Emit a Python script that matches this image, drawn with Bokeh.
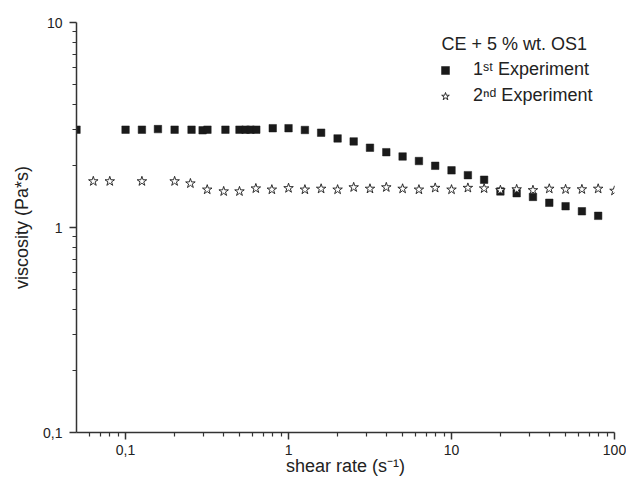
from bokeh.plotting import figure
from bokeh.models import Range1d, CustomJSTickFormatter, Legend, LegendItem, FixedTicker, Label
from bokeh.embed import file_html
from bokeh.resources import INLINE

# 1st experiment (filled squares)
x1 = [0.05, 0.1, 0.126, 0.158, 0.2, 0.254, 0.297, 0.318, 0.41, 0.5, 0.545, 0.584, 0.634, 0.8, 1.0, 1.26,
      1.585, 2.0, 2.51, 3.16, 3.98, 5.01, 6.31, 7.94, 10.0, 12.6, 15.85, 19.95, 25.1, 31.6, 39.8, 50.1, 63.1, 79.4]
y1 = [3.0, 3.0, 3.0, 3.02, 3.0, 3.0, 2.98, 3.0, 3.0, 3.0, 3.0, 3.0, 3.0, 3.05, 3.05, 2.99,
      2.9, 2.72, 2.63, 2.45, 2.33, 2.22, 2.11, 2.0, 1.90, 1.80, 1.71, 1.50, 1.47, 1.41, 1.32, 1.27, 1.20, 1.14]

# 2nd experiment (open stars)
x2 = [0.0634, 0.080, 0.126, 0.2, 0.25, 0.317, 0.40, 0.50, 0.63, 0.79, 1.0, 1.26, 1.585, 2.0, 2.51, 3.16,
      3.98, 5.01, 6.31, 7.94, 10.0, 12.6, 15.85, 19.95, 25.1, 31.6, 39.8, 50.1, 63.1, 79.4, 100.0]
y2 = [1.68, 1.68, 1.68, 1.68, 1.64, 1.53, 1.50, 1.50, 1.55, 1.53, 1.555, 1.53, 1.545, 1.53, 1.57, 1.545,
      1.57, 1.545, 1.53, 1.56, 1.53, 1.56, 1.55, 1.52, 1.535, 1.52, 1.545, 1.535, 1.535, 1.545, 1.51]

x_major = [0.1, 1, 10, 100]
x_minor = [0.06, 0.07, 0.08, 0.09, 0.2, 0.3, 0.4, 0.5, 0.6, 0.7, 0.8, 0.9,
           2, 3, 4, 5, 6, 7, 8, 9, 20, 30, 40, 50, 60, 70, 80, 90]
y_major = [0.1, 1, 10]
y_minor = [0.2, 0.3, 0.4, 0.5, 0.6, 0.7, 0.8, 0.9, 2, 3, 4, 5, 6, 7, 8, 9]

legend_title = "CE + 5 % wt. OS1"
label1 = "1ˢᵗ Experiment"
label2 = "2ⁿᵈ Experiment"
x_label = "shear rate (s⁻¹)"
y_label = "viscosity (Pa*s)"

FONT = "Liberation Sans"
TXT = "#222222"
BIG = "18px"

p = figure(width=626, height=478, x_axis_type="log", y_axis_type="log",
           x_range=Range1d(0.05, 100), y_range=Range1d(0.1, 10),
           output_backend="svg", toolbar_location=None,
           min_border_left=76, min_border_right=12, min_border_top=22, min_border_bottom=46)
p.outline_line_color = None
p.grid.visible = False
p.background_fill_color = "white"
p.border_fill_color = "white"

r1 = p.scatter(x1, y1, marker="square", size=7.5, fill_color="#1a1a1a", line_color="#1a1a1a", line_width=0.5)
r2 = p.scatter(x2, y2, marker="star", size=10, fill_color="white", line_color="#1a1a1a", line_width=0.9)

p.xaxis[0].ticker = FixedTicker(ticks=x_major, minor_ticks=x_minor)
p.yaxis[0].ticker = FixedTicker(ticks=y_major, minor_ticks=y_minor)

fmt = CustomJSTickFormatter(code="return tick.toString().replace('.', ',');")
for ax in (p.xaxis[0], p.yaxis[0]):
    ax.formatter = fmt
    ax.axis_line_color = "#333333"
    ax.axis_line_width = 1.5
    ax.major_tick_line_color = "#333333"
    ax.minor_tick_line_color = "#333333"
    ax.major_tick_line_width = 1.5
    ax.minor_tick_line_width = 1.2
    ax.major_tick_out = 7
    ax.major_tick_in = 0
    ax.minor_tick_out = 4
    ax.minor_tick_in = 0
    ax.major_label_text_font = FONT
    ax.major_label_text_font_size = "14px"
    ax.major_label_text_color = TXT
    ax.axis_label_text_font = FONT
    ax.axis_label_text_font_size = BIG
    ax.axis_label_text_font_style = "normal"
    ax.axis_label_text_color = TXT

p.xaxis.axis_label = x_label
p.xaxis.major_label_standoff = 5
p.xaxis.axis_label_standoff = -2
p.yaxis.axis_label = y_label
p.yaxis.major_label_standoff = 7
p.yaxis.axis_label_standoff = 8

# legend title
p.add_layout(Label(x=365, y=389, x_units="screen", y_units="screen", text=legend_title,
                   text_font=FONT, text_font_size=BIG, text_color=TXT,
                   text_align="left", text_baseline="middle"))

legend = Legend(items=[LegendItem(label=label1, renderers=[r1]),
                       LegendItem(label=label2, renderers=[r2])],
                location=(359, 326),
                label_text_font=FONT, label_text_font_size=BIG, label_text_color=TXT,
                glyph_width=20, glyph_height=20, label_height=20, label_standoff=18, spacing=5,
                padding=0, margin=0, border_line_color=None, background_fill_alpha=0)
p.add_layout(legend)

open("out.html", "w").write(file_html(p, INLINE))
